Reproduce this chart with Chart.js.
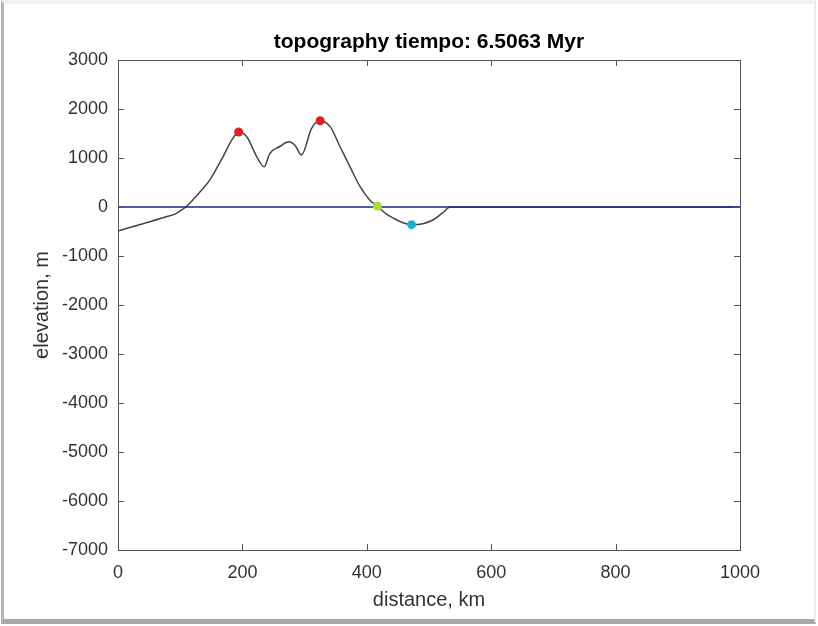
<!DOCTYPE html>
<html>
<head>
<meta charset="utf-8">
<script src="https://cdn.jsdelivr.net/npm/chart.js@4.4.1/dist/chart.umd.min.js"></script>
<style>
  html, body { margin: 0; padding: 0; background: #ffffff; }
  #wrap { position: relative; width: 818px; height: 626px; overflow: hidden; }
  canvas { position: absolute; left: 0; top: 0; }
  /* figure window edge */
  #edge {
    position: absolute; left: 1px; top: 0; width: 815px; height: 624px;
    box-sizing: border-box; pointer-events: none;
    border-left: 3px solid #b4b4b4;
    border-top: 4px solid #f1f1f1;
    border-right: 2px solid #ececec;
    border-bottom: 5px solid #a9a9a9;
  }
</style>
</head>
<body>
<div id="wrap">
  <canvas id="c" width="818" height="626"></canvas>
  <div id="edge"></div>
</div>
<script>
// Topographic profile, distance (km) vs elevation (m)
const distanceKm = [0, 40, 75, 94, 100, 109, 130, 148, 169, 183, 194, 207, 223, 235, 244, 260, 275, 285, 295, 311, 325, 341, 357, 373, 389, 405, 417, 430, 443, 458, 472, 490, 507, 522, 534, 545, 1000];
const elevationM = [-490, -340, -210, -130, -80, 0, 280, 560, 1030, 1370, 1530, 1435, 1030, 820, 1090, 1235, 1330, 1250, 1060, 1600, 1760, 1640, 1230, 820, 420, 140, 20, -130, -230, -320, -360, -340, -260, -120, 0, 0, 0];

// Highlighted points on the profile
const peakKm = [194, 325];
const peakM = [1530, 1760];
const shoreKm = [417];
const shoreM = [20];
const troughKm = [472];
const troughM = [-360];

// Sea level reference
const seaLevelKm = [0, 1000];
const seaLevelM = [0, 0];

// Axis ticks
const xTicks = [0, 200, 400, 600, 800, 1000];
const yTicks = [3000, 2000, 1000, 0, -1000, -2000, -3000, -4000, -5000, -6000, -7000];

const titleText = 'topography tiempo: 6.5063 Myr';
const FONT = '"Liberation Sans", Arial, Helvetica, sans-serif';

const pts = (xs, ys) => xs.map((x, i) => ({ x: x, y: ys[i] }));

// Inward ticks on all four sides plus the box outline and the title
const boxPlugin = {
  id: 'matlabBox',
  afterDraw(chart) {
    const { ctx, chartArea: a, scales } = chart;
    const len = 6;
    ctx.save();
    ctx.strokeStyle = '#555555';
    ctx.lineWidth = 1;
    ctx.beginPath();
    xTicks.forEach(v => {
      const px = Math.round(scales.x.getPixelForValue(v)) + 0.5;
      ctx.moveTo(px, a.bottom); ctx.lineTo(px, a.bottom - len);
      ctx.moveTo(px, a.top); ctx.lineTo(px, a.top + len);
    });
    yTicks.forEach(v => {
      const py = Math.round(scales.y.getPixelForValue(v)) + 0.5;
      ctx.moveTo(a.left, py); ctx.lineTo(a.left + len, py);
      ctx.moveTo(a.right, py); ctx.lineTo(a.right - len, py);
    });
    ctx.stroke();
    ctx.strokeRect(Math.round(a.left) + 0.5, Math.round(a.top) + 0.5,
                   Math.round(a.right - a.left), Math.round(a.bottom - a.top));
    ctx.fillStyle = '#000000';
    ctx.font = 'bold 21px ' + FONT;
    ctx.textAlign = 'center';
    ctx.textBaseline = 'alphabetic';
    ctx.fillText(titleText, (a.left + a.right) / 2, 48);
    ctx.restore();
  }
};

new Chart(document.getElementById('c'), {
  type: 'line',
  data: {
    datasets: [
      {
        label: 'peaks', data: pts(peakKm, peakM), showLine: false,
        pointRadius: 4.5, pointBackgroundColor: '#e31e24', pointBorderWidth: 0, order: -1
      },
      {
        label: 'shoreline', data: pts(shoreKm, shoreM), showLine: false,
        pointRadius: 4.5, pointBackgroundColor: '#a8e03a', pointBorderWidth: 0, order: -1
      },
      {
        label: 'trough', data: pts(troughKm, troughM), showLine: false,
        pointRadius: 4.5, pointBackgroundColor: '#1aaed6', pointBorderWidth: 0, order: -1
      },
      {
        label: 'sea level', data: pts(seaLevelKm, seaLevelM),
        borderColor: '#1c2886', borderWidth: 1.3, pointRadius: 0, tension: 0, order: 0
      },
      {
        label: 'topography', data: pts(distanceKm, elevationM),
        borderColor: '#444444', borderWidth: 1.5, pointRadius: 0,
        cubicInterpolationMode: 'monotone', order: 1
      }
    ]
  },
  options: {
    responsive: false,
    animation: false,
    events: [],
    layout: { padding: { top: 60, right: 78, left: 0, bottom: 0 } },
    plugins: { legend: { display: false }, tooltip: { enabled: false }, title: { display: false } },
    scales: {
      x: {
        type: 'linear', min: 0, max: 1000,
        afterBuildTicks: s => { s.ticks = xTicks.map(v => ({ value: v })); },
        afterFit: s => { s.height = 76; },
        grid: { display: false, drawTicks: false },
        border: { display: false },
        ticks: { padding: 12, color: '#333333', font: { family: FONT, size: 18 }, maxRotation: 0, callback: v => String(v) },
        title: { display: true, text: 'distance, km', color: '#333333', font: { family: FONT, size: 20 }, padding: { top: 4, bottom: 14 } }
      },
      y: {
        type: 'linear', min: -7000, max: 3000,
        afterBuildTicks: s => { s.ticks = yTicks.map(v => ({ value: v })); },
        afterFit: s => { s.width = 118; },
        grid: { display: false, drawTicks: false },
        border: { display: false },
        ticks: { padding: 10, color: '#333333', font: { family: FONT, size: 18 }, callback: v => String(v) },
        title: { display: true, text: 'elevation, m', color: '#333333', font: { family: FONT, size: 20 }, padding: { top: 30, bottom: 0 } }
      }
    }
  },
  plugins: [boxPlugin]
});
</script>
</body>
</html>
